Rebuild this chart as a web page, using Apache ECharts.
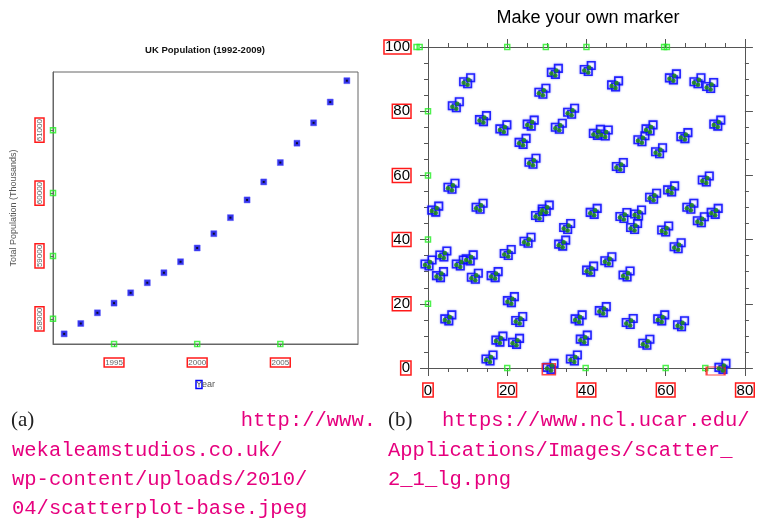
<!DOCTYPE html>
<html>
<head>
<meta charset="utf-8">
<script src="https://cdn.jsdelivr.net/npm/echarts@6/dist/echarts.min.js"></script>
<style>
  html, body { margin: 0; padding: 0; background: #fff; }
  #chart { width: 758px; height: 522px; }
</style>
</head>
<body>
<div id="chart"></div>
<script>
// (a) UK population, thousands
var years = [1992, 1993, 1994, 1995, 1996, 1997, 1998, 1999, 2000, 2001, 2002, 2003, 2004, 2005, 2006, 2007, 2008, 2009];
var population = [57761, 57926, 58096, 58250, 58414, 58574, 58733, 58908, 59126, 59354, 59609, 59891, 60177, 60485, 60793, 61117, 61447, 61787];
var yearTicks = [1995, 2000, 2005];
var popTicks = [58000, 59000, 60000, 61000];
var yearMin = 1991.33, yearMax = 2009.67;
var popMin = 57600, popMax = 61925;

// (b) marker clusters
var clusterX = [9.75, 6.9, 13.75, 18.9, 25.8, 23.75, 28.75, 31.9, 32.9, 36, 40.2, 47.1, 42.5, 44.5, 53.75, 55.8, 58.2, 48.3, 26.25, 5.8,
  1.7, 12.9, 27.9, 29.6, 35, 41.7, 49.2, 52.9, 51.9, 56.7, 61.25, 59.75, 62.9, 66.1, 68.75, 70, 72.25, 72.9, 64.6, 61.7,
  67.9, 71.1, 0, 3.75, 2.9, 7.9, 10.4, 11.7, 16.7, 20, 25, 33.75, 40.8, 45.4, 50, 20.8, 5, 22.9, 37.9, 44,
  50.8, 58.75, 63.75, 17.9, 22.1, 39.2, 55, 15.4, 36.7, 30.8, 74.2];
var clusterY = [89.5, 82, 77.7, 74.8, 76.3, 70.6, 86.2, 92.4, 75.3, 80, 93.3, 88.5, 73.4, 73.2, 71.4, 74.8, 67.7, 63.1, 64.4, 56.6,
  49.5, 50.4, 47.8, 49.8, 44.1, 48.8, 47.5, 48.3, 44.1, 53.5, 55.8, 43.3, 38.1, 50.4, 46.2, 58.9, 48.8, 76.3, 72.4, 90.7,
  89.5, 88, 32.7, 35.5, 29.1, 32.7, 34.3, 28.6, 29.1, 36, 39.8, 38.9, 30.8, 33.7, 29.3, 21.3, 15.6, 15.1, 15.6, 18.2,
  14.5, 15.6, 13.8, 9, 8.3, 9.3, 8, 3.1, 3.1, 0.5, 0.5];
var tickMarksB = [[0, 80], [0, 60], [0, 40], [0, 20], [-2.9, 100], [-2.1, 100],
  [20, 100], [29.75, 100], [40, 100], [59.6, 100], [60.3, 100],
  [20, 0], [39.8, 0], [60, 0], [70, 0]];
var textBoxesB = [[30.5, -0.4], [72.6, -0.9]];

var chart = echarts.init(document.getElementById('chart'));

var popData = years.map(function (y, i) { return [y, population[i]]; });
var clusterData = clusterX.map(function (x, i) { return [x, clusterY[i]]; });
var tickMarksA = popTicks.map(function (v) { return [yearMin, v]; })
  .concat(yearTicks.map(function (v) { return [v, popMin]; }));

var redBox = { borderColor: '#ff1a1a', borderWidth: 1.5 };
var hollowGreen = { color: 'rgba(0,0,0,0)', borderColor: '#22ee22', borderWidth: 1.5 };
var axisGrey = { color: '#555', width: 1 };

function frameAxis(extra) {
  return Object.assign({
    type: 'value',
    gridIndex: 1,
    axisLine: { show: true, onZero: false, lineStyle: axisGrey },
    axisTick: { show: true, inside: false, length: 8, lineStyle: axisGrey },
    minorTick: { show: true, splitNumber: 4, length: 4, lineStyle: axisGrey },
    splitLine: { show: false },
    axisLabel: { show: false }
  }, extra);
}

var labelB = Object.assign({
  show: true, fontFamily: 'Liberation Sans', fontSize: 15, color: '#000', padding: [0, 1, -1, 1]
}, redBox);

// cluster offsets: blue squares and green dots in each clump
var squareOffsets = [[-3, 1], [1, 3], [4, -3]];
var dotOffsets = [[-3, 2], [1, 4], [2, -1]];

var series = [];
squareOffsets.forEach(function (off) {
  series.push({
    type: 'scatter', xAxisIndex: 1, yAxisIndex: 1, data: clusterData,
    symbol: 'rect', symbolSize: 7.5, symbolOffset: off, silent: true, z: 2,
    itemStyle: { color: 'rgba(0,0,0,0)', borderColor: '#0000ff', borderWidth: 1.6,
      shadowBlur: 2, shadowColor: 'rgba(80,80,255,0.9)' }
  });
});
dotOffsets.forEach(function (off) {
  series.push({
    type: 'scatter', xAxisIndex: 1, yAxisIndex: 1, data: clusterData,
    symbol: 'circle', symbolSize: 4.5, symbolOffset: off, silent: true, z: 3,
    itemStyle: { color: '#1f8a1f', opacity: 0.9 }
  });
});
series.push({
  type: 'scatter', xAxisIndex: 1, yAxisIndex: 1, data: tickMarksB, clip: false,
  symbol: 'rect', symbolSize: 5, silent: true, itemStyle: hollowGreen
});
series.push({
  type: 'scatter', xAxisIndex: 1, yAxisIndex: 1, data: [textBoxesB[0]], clip: false,
  symbol: 'rect', symbolSize: [13, 11], silent: true,
  itemStyle: { color: 'rgba(0,0,0,0)', borderColor: '#ff1a1a', borderWidth: 1.5 }
});
series.push({
  type: 'scatter', xAxisIndex: 1, yAxisIndex: 1, data: [textBoxesB[1]], clip: false,
  symbol: 'rect', symbolSize: [18, 8], silent: true,
  itemStyle: { color: 'rgba(0,0,0,0)', borderColor: '#ff1a1a', borderWidth: 1.5 }
});

// chart (a)
series.push({
  type: 'scatter', xAxisIndex: 0, yAxisIndex: 0, data: popData,
  symbol: 'rect', symbolSize: 6, silent: true,
  itemStyle: { color: '#0000e6', borderColor: 'rgba(90,90,255,0.6)', borderWidth: 1 }
});
series.push({
  type: 'scatter', xAxisIndex: 0, yAxisIndex: 0, data: popData,
  symbol: 'rect', symbolSize: 2, silent: true, itemStyle: { color: '#000' }
});
series.push({
  type: 'scatter', xAxisIndex: 0, yAxisIndex: 0, data: tickMarksA, clip: false,
  symbol: 'rect', symbolSize: 5, silent: true, itemStyle: hollowGreen
});

var labelA = Object.assign({
  show: true, fontFamily: 'Liberation Sans', fontSize: 8, color: '#666', padding: [1, 1, 0, 1],
  formatter: function (v) { return String(v); }
}, redBox);

var captionFont = { fontFamily: 'Liberation Mono', fontSize: 20.5, fill: '#e6007e' };
function cap(text, x, y, align) {
  return { type: 'text', x: x, y: y, style: Object.assign({
    text: text, textAlign: align || 'left', textVerticalAlign: 'middle' }, captionFont) };
}
function paren(text, x) {
  return { type: 'text', x: x, y: 420, style: {
    text: text, fontFamily: 'Liberation Serif', fontSize: 21, fill: '#222', textVerticalAlign: 'middle' } };
}

var option = {
  animation: false,
  backgroundColor: '#fff',
  grid: [
    { left: 53, top: 72, width: 305, height: 272, show: true, borderColor: '#666', borderWidth: 1 },
    { left: 428, top: 47, width: 320, height: 321 }
  ],
  xAxis: [
    {
      type: 'value', gridIndex: 0, min: yearMin, max: yearMax,
      axisLine: { show: true, lineStyle: { color: '#666' } },
      axisTick: { show: true, customValues: yearTicks, length: 3, lineStyle: { color: '#666' } },
      axisLabel: Object.assign({ customValues: yearTicks, margin: 14 }, labelA),
      splitLine: { show: false },
      name: '{y|Y}ear', nameLocation: 'middle', nameGap: 36,
      nameTextStyle: {
        fontFamily: 'Liberation Sans', fontSize: 9, color: '#555',
        rich: { y: { fontSize: 9, color: '#555', borderColor: '#0000ff', borderWidth: 1.5, padding: [0, 0, -1, 0] } }
      }
    },
    frameAxis({ min: 0, max: 80, interval: 20, position: 'bottom',
      axisLabel: Object.assign({ margin: 15 }, labelB) }),
    frameAxis({ min: 0, max: 80, interval: 20, position: 'top' })
  ],
  yAxis: [
    {
      type: 'value', gridIndex: 0, min: popMin, max: popMax,
      axisLine: { show: true, lineStyle: { color: '#666' } },
      axisTick: { show: true, customValues: popTicks, length: 3, lineStyle: { color: '#666' } },
      axisLabel: Object.assign({ customValues: popTicks, rotate: 90, margin: 9 }, labelA),
      splitLine: { show: false },
      name: 'Total Population (Thousands)', nameLocation: 'middle', nameGap: 35, nameRotate: 90,
      nameTextStyle: { fontFamily: 'Liberation Sans', fontSize: 9, color: '#555' }
    },
    frameAxis({ min: 0, max: 100, interval: 20, position: 'left',
      axisLabel: Object.assign({ margin: 17 }, labelB) }),
    frameAxis({ min: 0, max: 100, interval: 20, position: 'right' })
  ],
  series: series,
  graphic: [
    { type: 'text', x: 205, y: 50, style: { text: 'UK Population (1992-2009)', fontFamily: 'Liberation Sans',
      fontWeight: 'bold', fontSize: 9.5, fill: '#111', textAlign: 'center', textVerticalAlign: 'middle' } },
    { type: 'text', x: 588, y: 18, style: { text: 'Make your own marker', fontFamily: 'Liberation Sans',
      fontSize: 18, fill: '#000', textAlign: 'center', textVerticalAlign: 'middle' } },
    paren('(a)', 11),
    cap('http://www.', 376, 421, 'right'),
    cap('wekaleamstudios.co.uk/', 12, 451),
    cap('wp-content/uploads/2010/', 12, 480),
    cap('04/scatterplot-base.jpeg', 12, 509),
    paren('(b)', 388),
    cap('https://www.ncl.ucar.edu/', 442, 421),
    cap('Applications/Images/scatter_', 388, 451),
    cap('2_1_lg.png', 388, 480)
  ]
};

chart.setOption(option);
</script>
</body>
</html>
